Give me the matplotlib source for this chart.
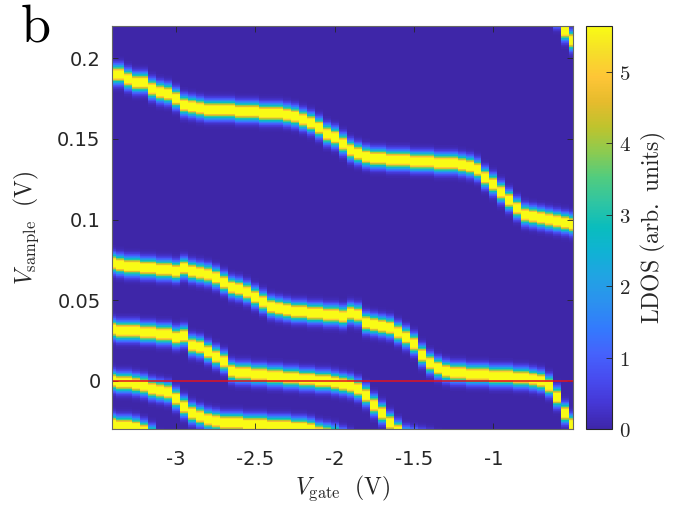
import numpy as np
import matplotlib
matplotlib.use("Agg")
import matplotlib.pyplot as plt
from matplotlib.colors import LinearSegmentedColormap

plt.rcParams['mathtext.fontset'] = 'cm'

# ---------------- data ----------------
gate = [-3.40, -3.35, -3.30, -3.25, -3.20, -3.15, -3.10, -3.05, -3.00, -2.95,
        -2.90, -2.85, -2.80, -2.75, -2.70, -2.65, -2.60, -2.55, -2.50, -2.45,
        -2.40, -2.35, -2.30, -2.25, -2.20, -2.15, -2.10, -2.05, -2.00, -1.95,
        -1.90, -1.85, -1.80, -1.75, -1.70, -1.65, -1.60, -1.55, -1.50, -1.45,
        -1.40, -1.35, -1.30, -1.25, -1.20, -1.15, -1.10, -1.05, -1.00, -0.95,
        -0.90, -0.85, -0.80, -0.75, -0.70, -0.65, -0.60, -0.55, -0.50]

nan = float('nan')

# peak positions (V_sample, V) of each LDOS resonance at each gate voltage
level_A = [0.190, 0.190, 0.187, 0.185, 0.185, 0.181, 0.179, 0.178, 0.175, 0.171,
           0.170, 0.169, 0.168, 0.168, 0.168, 0.168, 0.167, 0.167, 0.167, 0.166,
           0.166, 0.166, 0.165, 0.164, 0.162, 0.160, 0.157, 0.153, 0.151, 0.147,
           0.143, 0.141, 0.139, 0.138, 0.138, 0.137, 0.137, 0.137, 0.136, 0.136,
           0.136, 0.135, 0.135, 0.135, 0.134, 0.133, 0.131, 0.126, 0.122, 0.117,
           0.112, 0.107, 0.103, 0.102, 0.101, 0.100, 0.099, 0.098, 0.097]

level_B = [0.073, 0.072, 0.071, 0.071, 0.070, 0.070, 0.069, 0.069, 0.068, 0.070,
           0.068, 0.067, 0.066, 0.064, 0.061, 0.058, 0.057, 0.055, 0.052, 0.049,
           0.046, 0.045, 0.044, 0.043, 0.043, 0.042, 0.042, 0.041, 0.041, 0.040,
           0.042, 0.041, 0.036, 0.035, 0.034, 0.033, 0.030, 0.027, 0.023, 0.016,
           0.011, 0.008, 0.006, 0.005, 0.005, 0.004, 0.004, 0.004, 0.003, 0.003,
           0.003, 0.002, 0.002, 0.001, 0.000, -0.003, -0.010, -0.020, -0.027]

level_C = [0.032, 0.031, 0.031, 0.031, 0.030, 0.030, 0.029, 0.029, 0.027, 0.028,
           0.022, 0.021, 0.018, 0.015, 0.012, 0.006, 0.005, 0.005, 0.004, 0.004,
           0.003, 0.003, 0.002, 0.002, 0.001, 0.001, 0.000, 0.000, -0.001, -0.002,
           -0.003, -0.005, -0.009, -0.015, -0.020, -0.026, -0.031, -0.035, -0.036, -0.037,
           -0.038, -0.040, nan, nan, nan, nan, nan, nan, nan, nan,
           nan, nan, nan, nan, nan, nan, nan, nan, nan]

level_D = [0.000, -0.001, -0.001, -0.002, -0.003, -0.005, -0.006, -0.007, -0.011, -0.016,
           -0.020, -0.022, -0.024, -0.025, -0.026, -0.026, -0.026, -0.027, -0.027, -0.027,
           -0.028, -0.028, -0.028, -0.029, -0.029, -0.030, -0.032, -0.033, -0.034, -0.036,
           -0.038, nan, nan, nan, nan, nan, nan, nan, nan, nan,
           nan, nan, nan, nan, nan, nan, nan, nan, nan, nan,
           nan, nan, nan, nan, nan, nan, nan, nan, nan]

level_E = [-0.027, -0.028, -0.028, -0.029, -0.031, -0.034, -0.040, nan, nan, nan,
           nan, nan, nan, nan, nan, nan, nan, nan, nan, nan,
           nan, nan, nan, nan, nan, nan, nan, nan, nan, nan,
           nan, nan, nan, nan, nan, nan, nan, nan, nan, nan,
           nan, nan, nan, nan, nan, nan, nan, nan, nan, nan,
           nan, nan, nan, nan, nan, 0.235, 0.226, 0.217, 0.211]

peak_height = 7.0      # arb. units (display saturates at colour limit)
peak_width = 0.0034    # V (gaussian sigma)
clim_max = 5.64

xticks = [-3, -2.5, -2, -1.5, -1]
xticklabels = ['-3', '-2.5', '-2', '-1.5', '-1']
yticks = [0, 0.05, 0.1, 0.15, 0.2]
yticklabels = ['0', '0.05', '0.1', '0.15', '0.2']
cticks = [0, 1, 2, 3, 4, 5]

# ---------------- parula colormap ----------------
parula_anchors = [
    (0.2422, 0.1504, 0.6603), (0.2704, 0.2138, 0.8346), (0.2813, 0.2985, 0.9397),
    (0.2710, 0.3860, 0.9898), (0.2006, 0.4803, 0.9906), (0.1716, 0.5655, 0.9393),
    (0.1321, 0.6363, 0.8932), (0.0628, 0.6972, 0.8355), (0.0369, 0.7400, 0.7426),
    (0.1853, 0.7721, 0.6379), (0.3176, 0.7994, 0.4975), (0.5470, 0.7957, 0.3159),
    (0.7468, 0.7654, 0.1782), (0.9000, 0.7336, 0.1749), (0.9966, 0.7740, 0.2138),
    (0.9651, 0.8716, 0.1608), (0.9769, 0.9839, 0.0805)]
parula = LinearSegmentedColormap.from_list('parula', parula_anchors, N=256)

# ---------------- build LDOS map ----------------
g = np.array(gate)
mid = (g[1:] + g[:-1]) / 2
xedges = np.concatenate([[g[0] - (mid[0] - g[0])], mid, [g[-1] + (g[-1] - mid[-1])]])
yedges = np.linspace(-0.036, 0.226, 656)
yc = (yedges[1:] + yedges[:-1]) / 2

Z = np.zeros((yc.size, g.size))
for lev in (level_A, level_B, level_C, level_D, level_E):
    lv = np.array(lev, dtype=float)
    G = peak_height * np.exp(-(yc[:, None] - lv[None, :]) ** 2 / (2 * peak_width ** 2))
    Z += np.nan_to_num(G)

# ---------------- figure ----------------
dark = (0.15, 0.15, 0.15)
fig = plt.figure(figsize=(6.84, 5.12), dpi=100)
ax = fig.add_axes([111.7 / 684, 1 - 429.3 / 512, 461.0 / 684, 403.3 / 512])
cax = fig.add_axes([586.0 / 684, 1 - 429.3 / 512, 25.7 / 684, 403.3 / 512])

mesh = ax.pcolormesh(xedges, yedges, Z, cmap=parula, vmin=0, vmax=clim_max,
                     shading='flat', rasterized=True)
ax.axhline(0, color=(0.88, 0.08, 0.12), lw=1.1)
ax.set_xlim(-3.405, -0.50)
ax.set_ylim(-0.030, 0.220)

ax.set_xticks(xticks)
ax.set_xticklabels(xticklabels)
ax.set_yticks(yticks)
ax.set_yticklabels(yticklabels)
for lab in ax.get_xticklabels() + ax.get_yticklabels():
    lab.set_fontfamily('DejaVu Sans')
    lab.set_fontsize(14)
    lab.set_color(dark)
ax.tick_params(axis='both', direction='in', top=True, right=True, length=4,
               width=0.6, color=dark)
ax.tick_params(axis='x', pad=15)
ax.tick_params(axis='y', pad=8)
for s in ax.spines.values():
    s.set_color((0.4, 0.4, 0.4))
    s.set_linewidth(0.8)

ax.set_xlabel(r'$V_{\mathrm{gate}}\ \ (\mathrm{V})$', fontsize=17, color=dark, labelpad=3)
ax.set_ylabel(r'$V_{\mathrm{sample}}\ \ (\mathrm{V})$', fontsize=17, color=dark, labelpad=12)

cb = fig.colorbar(mesh, cax=cax, ticks=cticks)
cb.ax.set_yticklabels([r'$\mathrm{%d}$' % t for t in cticks])
cb.ax.tick_params(direction='in', length=4, width=0.6, color=dark, labelsize=15,
                  labelcolor=dark, pad=5)
cb.outline.set_edgecolor(dark)
cb.outline.set_linewidth(0.8)
cb.set_label(r'$\mathrm{LDOS\ (arb.\ units)}$', fontsize=17, color=dark, labelpad=6)

fig.text(20 / 684, 1 - 42 / 512, r'$\mathrm{b}$', fontsize=39, color='black',
         ha='left', va='baseline')

fig.savefig('out.png', dpi=100)
